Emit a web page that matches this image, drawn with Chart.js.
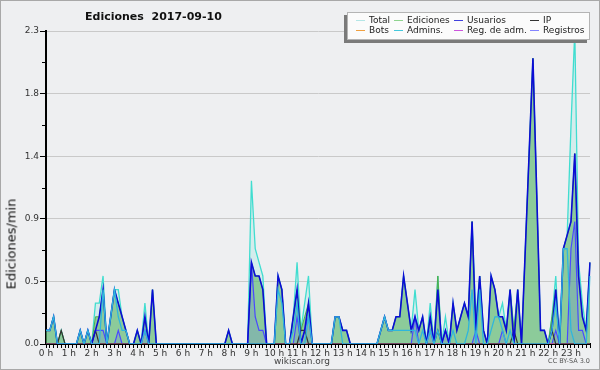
<!DOCTYPE html>
<html><head><meta charset="utf-8">
<script src="https://cdn.jsdelivr.net/npm/chart.js@4.4.1/dist/chart.umd.min.js"></script>
<style>
html,body{margin:0;padding:0;background:#eeeff1;}
#wrap{position:relative;width:600px;height:370px;overflow:hidden;background:#eeeff1;font-family:"DejaVu Sans",sans-serif;}
#c{position:absolute;left:0;top:0;}
#frame{position:absolute;left:0;top:0;width:600px;height:370px;box-sizing:border-box;border:1px solid #a8a8a8;pointer-events:none;}
#title{position:absolute;left:85px;top:10px;font:bold 11px "DejaVu Sans";line-height:13px;color:#111;white-space:pre;}
#ytitle{position:absolute;left:11px;top:244px;transform:translate(-50%,-50%) rotate(-90deg);font:13px "DejaVu Sans";color:#111;white-space:nowrap;}
#legend{position:absolute;left:347px;top:12px;width:243px;height:28px;background:#fbfbfb;border:1px solid #b4b4b4;box-shadow:-3px 3px 0 #7a7a7a;box-sizing:border-box;}
.li{position:absolute;font:9px "DejaVu Sans";color:#222;white-space:nowrap;line-height:10px;}
.sw{position:absolute;top:5px;height:1px;width:9px;}
.tx{position:absolute;left:13px;top:0;}
#site{position:absolute;left:302px;top:356px;transform:translateX(-50%);font:9px "DejaVu Sans";color:#444;}
#cc{position:absolute;right:10px;top:357px;font:6.5px "DejaVu Sans";color:#555;}
</style></head>
<body>
<div id="wrap">
<canvas id="c" width="600" height="370"></canvas>
<div id="title">Ediciones  2017-09-10</div>
<div id="ytitle">Ediciones/min</div>
<div id="legend"></div>
<div id="site">wikiscan.org</div>
<div id="cc">CC BY-SA 3.0</div>
<div id="frame"></div>
</div>
<script>
// ---- data (edits per minute, 10-minute slots, one row per hour) ----
const hours = [0,1,2,3,4,5,6,7,8,9,10,11,12,13,14,15,16,17,18,19,20,21,22,23];
const minutes = ['00','10','20','30','40','50'];
const hourLabels = hours.map(h => h + ' h');

const total = [
 .1,.1,.2,0,.1,0,   0,0,0,.1,0,.1,   0,.3,.3,.5,0,.2,   .4,.4,.2,.1,0,0,
 .1,0,.3,0,.4,0,    0,0,0,0,0,0,     0,0,0,0,0,0,       0,0,0,0,0,0,
 .1,0,0,0,0,0,      1.2,.7,.6,.5,0,0, 0,.5,.4,0,0,.2,   .6,.1,.3,.5,0,0,
 0,0,0,0,.2,.2,     .1,.1,0,0,0,0,   0,0,0,0,.1,.2,     .1,.1,.2,.2,.5,.3,
 .1,.4,.1,.2,0,.3,  0,.5,0,.2,0,.3,  .1,.2,.3,.2,.9,.2,  .5,.1,0,.5,.4,.2,
 .3,.1,.4,.1,.4,0,  .7,1.4,2.1,1.1,.1,.1, 0,.2,.5,0,.7,.8, 1.6,2.3,.6,.3,.1,.6
];
const edits = [
 .1,.1,.2,0,.1,0,   0,0,0,.1,0,.1,   0,.2,.2,.4,0,.2,   .4,.3,.2,.1,0,0,
 .1,0,.2,0,.4,0,    0,0,0,0,0,0,     0,0,0,0,0,0,       0,0,0,0,0,0,
 .1,0,0,0,0,0,      .6,.5,.5,.4,0,0, 0,.5,.4,0,0,.2,    .4,.1,.2,.3,0,0,
 0,0,0,0,.2,.2,     .1,.1,0,0,0,0,   0,0,0,0,.1,.2,     .1,.1,.2,.2,.5,.3,
 .1,.2,.1,.2,0,.2,  0,.5,0,.1,0,.3,  .1,.2,.3,.2,.9,.1,  .5,.1,0,.5,.4,.2,
 .2,.1,.4,.1,.4,0,  .7,1.4,2.1,1.1,.1,.1, 0,.2,.4,0,.7,.8, .9,1.4,.5,.2,.1,.6
];
const users = [
 .1,.1,.2,0,0,0,    0,0,0,.1,0,.1,   0,.1,.2,.4,0,.2,   .4,.3,.2,.1,0,0,
 .1,0,.2,0,.4,0,    0,0,0,0,0,0,     0,0,0,0,0,0,       0,0,0,0,0,0,
 .1,0,0,0,0,0,      .6,.5,.5,.4,0,0, 0,.5,.4,0,0,.2,    .4,0,.1,.3,0,0,
 0,0,0,0,.2,.2,     .1,.1,0,0,0,0,   0,0,0,0,.1,.2,     .1,.1,.2,.2,.5,.3,
 .1,.2,.1,.2,0,.2,  0,.4,0,.1,0,.3,  .1,.2,.3,.2,.9,.1,  .5,.1,0,.5,.4,.2,
 .2,.1,.4,0,.4,0,   .7,1.4,2.1,1.1,.1,.1, 0,.1,.4,0,.7,.8, .9,1.4,.5,.2,.1,.6
];
const ips = [
 0,0,0,0,.1,0,      0,0,0,0,0,0,     0,.1,0,0,0,0,      0,0,0,0,0,0,
 0,0,0,0,0,0,       0,0,0,0,0,0,     0,0,0,0,0,0,       0,0,0,0,0,0,
 0,0,0,0,0,0,       0,0,0,0,0,0,     0,0,0,0,0,0,       0,.1,.1,0,0,0,
 0,0,0,0,0,0,       0,0,0,0,0,0,     0,0,0,0,0,0,       0,0,0,0,0,0,
 0,0,0,0,0,0,       0,.1,0,0,0,0,    0,0,0,0,0,0,       0,0,0,0,0,0,
 0,0,0,.1,0,0,      0,0,0,0,0,0,     0,.1,0,0,0,0,      0,0,0,0,0,0
];
const bots = [
 0,0,0,0,0,0, 0,0,0,0,0,0, 0,0,0,0,0,0, 0,0,0,0,0,0,
 0,0,0,0,0,0, 0,0,0,0,0,0, 0,0,0,0,0,0, 0,0,0,0,0,0,
 0,0,0,0,0,0, 0,0,0,0,0,0, 0,0,0,0,0,0, 0,0,0,0,0,0,
 0,0,0,0,0,0, 0,0,0,0,0,0, 0,0,0,0,0,0, 0,0,0,0,0,0,
 0,0,0,0,0,0, 0,0,0,0,0,0, 0,0,0,0,0,0, 0,0,0,0,0,0,
 0,0,0,0,0,0, 0,0,0,0,0,0, 0,0,0,0,0,0, 0,0,0,0,0,0
];
const admins = [
 .1,.1,.2,0,0,0,    0,0,0,.1,0,.1,   0,0,0,.4,0,.2,     .4,.2,.1,.1,0,0,
 0,0,.1,0,0,0,      0,0,0,0,0,0,     0,0,0,0,0,0,       0,0,0,0,0,0,
 0,0,0,0,0,0,       0,0,0,0,0,0,     0,.4,.3,0,0,.1,    .3,0,0,.2,0,0,
 0,0,0,0,.2,.2,     0,0,0,0,0,0,     0,0,0,0,.1,.2,     .1,.1,.1,.1,.1,.1,
 .1,.1,0,.1,0,.1,   0,.1,0,0,0,.1,   0,0,0,.1,.4,0,     .4,0,0,.1,.2,.2,
 .1,0,.1,0,0,0,     0,0,0,0,0,0,     0,.1,.3,0,.7,.7,   .1,0,0,0,0,.5
];
const adminLogs = [
 0,0,0,0,0,0, 0,0,0,0,0,0, 0,0,0,0,0,0, 0,0,0,0,0,0,
 0,0,0,0,0,0, 0,0,0,0,0,0, 0,0,0,0,0,0, 0,0,0,0,0,0,
 0,0,0,0,0,0, 0,0,0,0,0,0, 0,0,0,0,0,0, 0,0,0,0,0,0,
 0,0,0,0,0,0, 0,0,0,0,0,0, 0,0,0,0,0,0, 0,0,0,0,0,0,
 0,0,0,0,0,0, 0,0,0,0,0,0, 0,0,0,0,0,0, 0,0,0,0,0,0,
 0,0,0,0,0,0, 0,0,0,0,0,0, 0,0,0,0,0,0, 0,0,0,0,0,0
];
const logs = [
 0,0,0,0,0,0,       0,0,0,0,0,0,     0,.1,.1,.1,0,0,    0,.1,0,0,0,0,
 0,0,.1,0,0,0,      0,0,0,0,0,0,     0,0,0,0,0,0,       0,0,0,0,0,0,
 0,0,0,0,0,0,       .6,.2,.1,.1,0,0, 0,0,0,0,0,0,       .2,0,.1,.2,0,0,
 0,0,0,0,0,0,       0,0,0,0,0,0,     0,0,0,0,0,0,       0,0,0,0,0,0,
 0,.2,0,0,0,.1,     0,0,0,.1,0,0,    0,0,0,0,0,.1,      0,0,0,0,0,0,
 .1,0,0,0,0,0,      0,0,0,0,0,0,     0,0,.1,0,0,0,      .7,.9,.1,.1,0,0
];

const yTicks = [0, 0.46, 0.92, 1.38, 1.84, 2.3];
const yTickLabels = ['0.0', '0.5', '0.9', '1.4', '1.8', '2.3'];
const yMinor = [0.23, 0.69, 1.15, 1.61, 2.07];

// category labels (one per 10-minute slot)
const slots = [];
hours.forEach(h => minutes.forEach(m => slots.push(h + ':' + m)));

// ---- styles ----
const legendOrder = ['Total','Ediciones','Usuarios','IP','Bots','Admins.','Reg. de adm.','Registros'];
const legendColors = {
 'Total':'#b4e6e6','Ediciones':'#8fd48f','Usuarios':'#4040dd','IP':'#333333',
 'Bots':'#f0a040','Admins.':'#44c8dc','Reg. de adm.':'#cc55dd','Registros':'#8484ff'
};

function line(label, data, color, width, fill, bg){
  return {label, data, borderColor: color, borderWidth: width, backgroundColor: bg || 'transparent',
          fill: fill ? 'origin' : false, pointRadius: 0, tension: 0};
}
const datasets = [
  line('Admins.', admins, '#2fb6dc', 1.3),
  line('Usuarios', users, '#0c0cd6', 1.6),
  line('IP', ips, '#333333', 1.2),
  line('Reg. de adm.', adminLogs, '#cc44dd', 1),
  line('Bots', bots, '#ff9900', 1),
  line('Registros', logs, '#4a4aff', 1.2, true, 'rgba(90,90,255,0.16)'),
  line('Ediciones', edits, '#4cae4c', 1, true, 'rgba(92,180,100,0.6)'),
  line('Total', total, '#40ddd0', 1.3, true, 'rgba(64,224,208,0.15)')
];

const minorTicks = {
  id: 'minorTicks',
  afterDraw(chart){
    const y = chart.scales.y, ctx = chart.ctx, left = chart.chartArea.left;
    ctx.save(); ctx.strokeStyle = '#000'; ctx.lineWidth = 1;
    yMinor.forEach(v => {
      const p = Math.round(y.getPixelForValue(v)) + 0.5;
      ctx.beginPath(); ctx.moveTo(left - 4, p); ctx.lineTo(left, p); ctx.stroke();
    });
    ctx.restore();
  }
};

const chart = new Chart(document.getElementById('c'), {
  type: 'line',
  data: { labels: slots, datasets },
  plugins: [minorTicks],
  options: {
    responsive: false, animation: false,
    layout: { padding: { left: 0, right: 10, top: 31, bottom: 0 } },
    plugins: { legend: { display: false }, title: { display: false }, tooltip: { enabled: false } },
    scales: {
      x: {
        z: 1,
        offset: false,
        afterFit(s){ s.height = 26; },
        grid: { display: true, drawOnChartArea: false, drawTicks: true, tickLength: 4, tickColor: '#000', tickWidth: 1, offset: false },
        border: { display: true, color: '#000', width: 2 },
        ticks: {
          autoSkip: false, maxRotation: 0, minRotation: 0, padding: 0,
          color: '#333', font: { family: 'DejaVu Sans', size: 9 },
          callback: (v, i) => (i % 6 === 0 ? hourLabels[i / 6] : '')
        }
      },
      y: {
        min: 0, max: 2.3,
        afterFit(s){ s.width = 46; },
        afterBuildTicks(axis){ axis.ticks = yTicks.map(v => ({ value: v })); },
        grid: {
          drawTicks: true, tickLength: 6, tickColor: '#000',
          color: ctx => (ctx.tick && ctx.tick.value > 0 ? '#c9c9c9' : 'transparent'),
          lineWidth: 1
        },
        border: { display: true, color: '#000', width: 2 },
        ticks: {
          padding: 1, color: '#333', font: { family: 'DejaVu Sans', size: 9 },
          callback: (v, i) => yTickLabels[i]
        }
      }
    }
  }
});

// ---- HTML legend from datasets ----
const legend = document.getElementById('legend');
const colX = [8, 46, 106, 182];
legendOrder.forEach((name, k) => {
  const col = k % 4, row = Math.floor(k / 4);
  const item = document.createElement('div');
  item.className = 'li';
  item.style.left = colX[col] + 'px';
  item.style.top = (2 + row * 10) + 'px';
  const sw = document.createElement('div');
  sw.className = 'sw'; sw.style.left = '0px'; sw.style.background = legendColors[name];
  const tx = document.createElement('div');
  tx.className = 'tx'; tx.textContent = name;
  item.appendChild(sw); item.appendChild(tx);
  legend.appendChild(item);
});
</script>
</body></html>
